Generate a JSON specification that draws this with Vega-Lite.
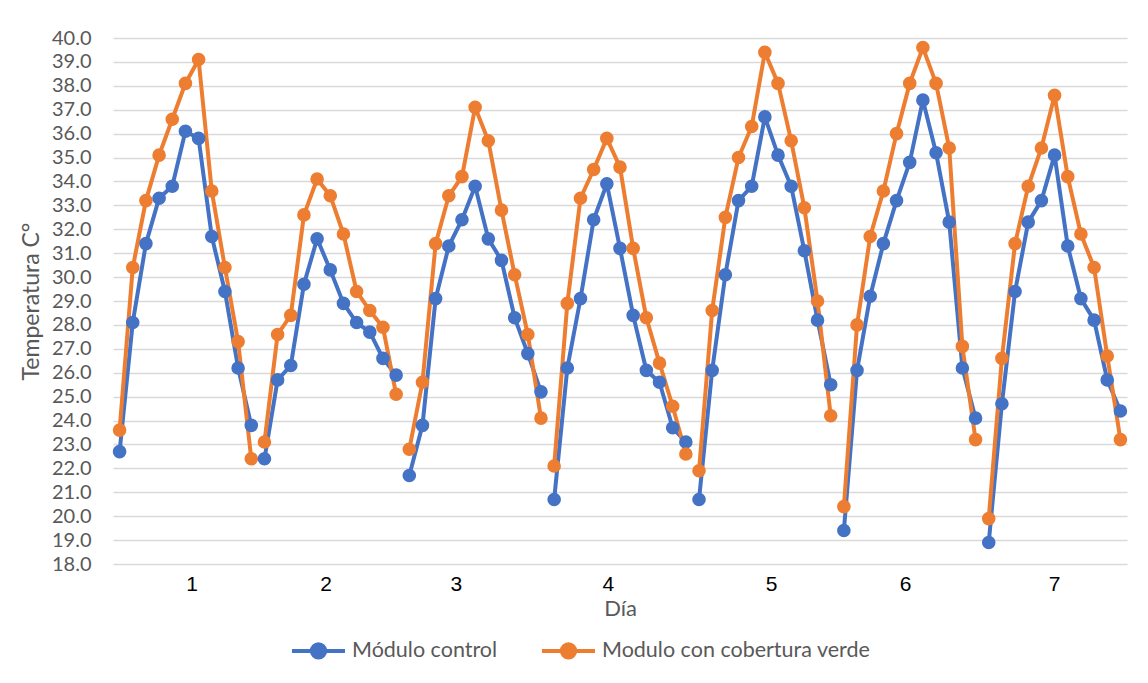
{
  "$schema": "https://vega.github.io/schema/vega-lite/v6.json",
  "width": 1014,
  "height": 526,
  "autosize": {"type": "none"},
  "padding": {"left": 113, "top": 38, "right": 21, "bottom": 119},
  "background": "white",
  "config": {"view": {"stroke": null}, "font": "Lato"},
  "data": {"values": [
    {"i":0,"dia":1,"Módulo control":22.7,"Modulo con cobertura verde":23.6},
    {"i":1,"dia":1,"Módulo control":28.1,"Modulo con cobertura verde":30.4},
    {"i":2,"dia":1,"Módulo control":31.4,"Modulo con cobertura verde":33.2},
    {"i":3,"dia":1,"Módulo control":33.3,"Modulo con cobertura verde":35.1},
    {"i":4,"dia":1,"Módulo control":33.8,"Modulo con cobertura verde":36.6},
    {"i":5,"dia":1,"Módulo control":36.1,"Modulo con cobertura verde":38.1},
    {"i":6,"dia":1,"Módulo control":35.8,"Modulo con cobertura verde":39.1},
    {"i":7,"dia":1,"Módulo control":31.7,"Modulo con cobertura verde":33.6},
    {"i":8,"dia":1,"Módulo control":29.4,"Modulo con cobertura verde":30.4},
    {"i":9,"dia":1,"Módulo control":26.2,"Modulo con cobertura verde":27.3},
    {"i":10,"dia":1,"Módulo control":23.8,"Modulo con cobertura verde":22.4},
    {"i":11,"dia":2,"Módulo control":22.4,"Modulo con cobertura verde":23.1},
    {"i":12,"dia":2,"Módulo control":25.7,"Modulo con cobertura verde":27.6},
    {"i":13,"dia":2,"Módulo control":26.3,"Modulo con cobertura verde":28.4},
    {"i":14,"dia":2,"Módulo control":29.7,"Modulo con cobertura verde":32.6},
    {"i":15,"dia":2,"Módulo control":31.6,"Modulo con cobertura verde":34.1},
    {"i":16,"dia":2,"Módulo control":30.3,"Modulo con cobertura verde":33.4},
    {"i":17,"dia":2,"Módulo control":28.9,"Modulo con cobertura verde":31.8},
    {"i":18,"dia":2,"Módulo control":28.1,"Modulo con cobertura verde":29.4},
    {"i":19,"dia":2,"Módulo control":27.7,"Modulo con cobertura verde":28.6},
    {"i":20,"dia":2,"Módulo control":26.6,"Modulo con cobertura verde":27.9},
    {"i":21,"dia":2,"Módulo control":25.9,"Modulo con cobertura verde":25.1},
    {"i":22,"dia":3,"Módulo control":21.7,"Modulo con cobertura verde":22.8},
    {"i":23,"dia":3,"Módulo control":23.8,"Modulo con cobertura verde":25.6},
    {"i":24,"dia":3,"Módulo control":29.1,"Modulo con cobertura verde":31.4},
    {"i":25,"dia":3,"Módulo control":31.3,"Modulo con cobertura verde":33.4},
    {"i":26,"dia":3,"Módulo control":32.4,"Modulo con cobertura verde":34.2},
    {"i":27,"dia":3,"Módulo control":33.8,"Modulo con cobertura verde":37.1},
    {"i":28,"dia":3,"Módulo control":31.6,"Modulo con cobertura verde":35.7},
    {"i":29,"dia":3,"Módulo control":30.7,"Modulo con cobertura verde":32.8},
    {"i":30,"dia":3,"Módulo control":28.3,"Modulo con cobertura verde":30.1},
    {"i":31,"dia":3,"Módulo control":26.8,"Modulo con cobertura verde":27.6},
    {"i":32,"dia":3,"Módulo control":25.2,"Modulo con cobertura verde":24.1},
    {"i":33,"dia":4,"Módulo control":20.7,"Modulo con cobertura verde":22.1},
    {"i":34,"dia":4,"Módulo control":26.2,"Modulo con cobertura verde":28.9},
    {"i":35,"dia":4,"Módulo control":29.1,"Modulo con cobertura verde":33.3},
    {"i":36,"dia":4,"Módulo control":32.4,"Modulo con cobertura verde":34.5},
    {"i":37,"dia":4,"Módulo control":33.9,"Modulo con cobertura verde":35.8},
    {"i":38,"dia":4,"Módulo control":31.2,"Modulo con cobertura verde":34.6},
    {"i":39,"dia":4,"Módulo control":28.4,"Modulo con cobertura verde":31.2},
    {"i":40,"dia":4,"Módulo control":26.1,"Modulo con cobertura verde":28.3},
    {"i":41,"dia":4,"Módulo control":25.6,"Modulo con cobertura verde":26.4},
    {"i":42,"dia":4,"Módulo control":23.7,"Modulo con cobertura verde":24.6},
    {"i":43,"dia":4,"Módulo control":23.1,"Modulo con cobertura verde":22.6},
    {"i":44,"dia":5,"Módulo control":20.7,"Modulo con cobertura verde":21.9},
    {"i":45,"dia":5,"Módulo control":26.1,"Modulo con cobertura verde":28.6},
    {"i":46,"dia":5,"Módulo control":30.1,"Modulo con cobertura verde":32.5},
    {"i":47,"dia":5,"Módulo control":33.2,"Modulo con cobertura verde":35.0},
    {"i":48,"dia":5,"Módulo control":33.8,"Modulo con cobertura verde":36.3},
    {"i":49,"dia":5,"Módulo control":36.7,"Modulo con cobertura verde":39.4},
    {"i":50,"dia":5,"Módulo control":35.1,"Modulo con cobertura verde":38.1},
    {"i":51,"dia":5,"Módulo control":33.8,"Modulo con cobertura verde":35.7},
    {"i":52,"dia":5,"Módulo control":31.1,"Modulo con cobertura verde":32.9},
    {"i":53,"dia":5,"Módulo control":28.2,"Modulo con cobertura verde":29.0},
    {"i":54,"dia":5,"Módulo control":25.5,"Modulo con cobertura verde":24.2},
    {"i":55,"dia":6,"Módulo control":19.4,"Modulo con cobertura verde":20.4},
    {"i":56,"dia":6,"Módulo control":26.1,"Modulo con cobertura verde":28.0},
    {"i":57,"dia":6,"Módulo control":29.2,"Modulo con cobertura verde":31.7},
    {"i":58,"dia":6,"Módulo control":31.4,"Modulo con cobertura verde":33.6},
    {"i":59,"dia":6,"Módulo control":33.2,"Modulo con cobertura verde":36.0},
    {"i":60,"dia":6,"Módulo control":34.8,"Modulo con cobertura verde":38.1},
    {"i":61,"dia":6,"Módulo control":37.4,"Modulo con cobertura verde":39.6},
    {"i":62,"dia":6,"Módulo control":35.2,"Modulo con cobertura verde":38.1},
    {"i":63,"dia":6,"Módulo control":32.3,"Modulo con cobertura verde":35.4},
    {"i":64,"dia":6,"Módulo control":26.2,"Modulo con cobertura verde":27.1},
    {"i":65,"dia":6,"Módulo control":24.1,"Modulo con cobertura verde":23.2},
    {"i":66,"dia":7,"Módulo control":18.9,"Modulo con cobertura verde":19.9},
    {"i":67,"dia":7,"Módulo control":24.7,"Modulo con cobertura verde":26.6},
    {"i":68,"dia":7,"Módulo control":29.4,"Modulo con cobertura verde":31.4},
    {"i":69,"dia":7,"Módulo control":32.3,"Modulo con cobertura verde":33.8},
    {"i":70,"dia":7,"Módulo control":33.2,"Modulo con cobertura verde":35.4},
    {"i":71,"dia":7,"Módulo control":35.1,"Modulo con cobertura verde":37.6},
    {"i":72,"dia":7,"Módulo control":31.3,"Modulo con cobertura verde":34.2},
    {"i":73,"dia":7,"Módulo control":29.1,"Modulo con cobertura verde":31.8},
    {"i":74,"dia":7,"Módulo control":28.2,"Modulo con cobertura verde":30.4},
    {"i":75,"dia":7,"Módulo control":25.7,"Modulo con cobertura verde":26.7},
    {"i":76,"dia":7,"Módulo control":24.4,"Modulo con cobertura verde":23.2}
  ]},
  "transform": [
    {"fold": ["Módulo control", "Modulo con cobertura verde"], "as": ["serie", "temp"]}
  ],
  "mark": {"type": "line", "strokeWidth": 4, "point": {"filled": true, "size": 185}},
  "encoding": {
    "x": {
      "field": "i", "type": "quantitative",
      "scale": {"domain": [-0.5, 76.5], "nice": false, "zero": false},
      "axis": {
        "title": "Día",
        "values": [5.47, 15.65, 25.53, 37.08, 49.47, 59.65, 70.97],
        "labelExpr": "indexof([5.47, 15.65, 25.53, 37.08, 49.47, 59.65, 70.97], datum.value) + 1",
        "grid": false, "domain": false, "ticks": false,
        "labelFont": "Liberation Sans", "labelFontSize": 21, "labelColor": "#000000",
        "labelPadding": 9,
        "titleFont": "Lato", "titleFontSize": 22, "titleFontWeight": "normal", "titleColor": "#595959",
        "titlePadding": 4,
        "encode": {"labels": {"update": {"dy": {"signal": "datum.value == 5.47 || datum.value == 37.08 ? 4 : 0"}}}}
      }
    },
    "y": {
      "field": "temp", "type": "quantitative",
      "scale": {"domain": [18, 40], "nice": false, "zero": false},
      "axis": {
        "title": "Temperatura C°",
        "values": [18,19,20,21,22,23,24,25,26,27,28,29,30,31,32,33,34,35,36,37,38,39,40],
        "format": ".1f",
        "domain": false, "ticks": false,
        "gridColor": "#D9D9D9", "gridWidth": 1.3,
        "labelFont": "Lato", "labelFontSize": 20, "labelColor": "#595959",
        "labelPadding": 22,
        "titleFont": "Lato", "titleFontSize": 23, "titleFontWeight": "normal", "titleColor": "#595959",
        "titlePadding": 8
      }
    },
    "color": {
      "field": "serie", "type": "nominal",
      "scale": {"domain": ["Módulo control", "Modulo con cobertura verde"], "range": ["#4472C4", "#ED7D31"]},
      "legend": {
        "title": null,
        "orient": "none",
        "direction": "horizontal",
        "legendX": 177,
        "legendY": 584,
        "padding": 0,
        "symbolType": "M-1,0L1,0M-0.25,0a0.25,0.25 0 1,0 0.5,0a0.25,0.25 0 1,0 -0.5,0Z",
        "symbolSize": 2809,
        "symbolStrokeWidth": 4,
        "labelFont": "Lato", "labelFontSize": 21.5, "labelColor": "#595959",
        "labelLimit": 0,
        "labelOffset": 5,
        "columnPadding": 36,
        "encode": {"symbols": {"update": {"fill": {"signal": "scale('color', datum.value)"}, "fillOpacity": {"value": 1}, "stroke": {"signal": "scale('color', datum.value)"}}}}
      }
    },
    "detail": {"field": "dia"}
  }
}
